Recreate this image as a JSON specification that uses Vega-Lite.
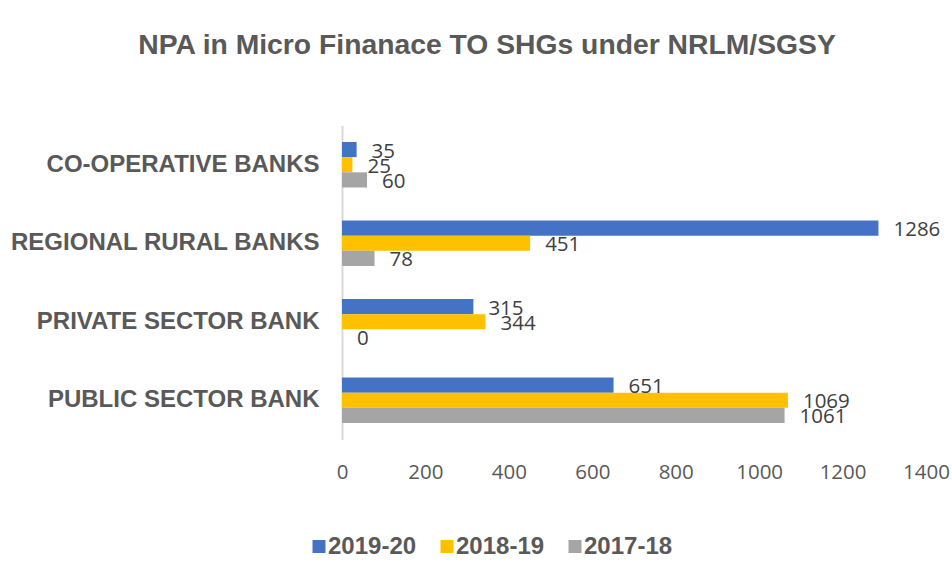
{
  "$schema": "https://vega.github.io/schema/vega-lite/v6.json",
  "width": 584,
  "height": 314,
  "autosize": "none",
  "padding": {"left": 342, "top": 125.5, "right": 26, "bottom": 138.5},
  "background": "white",
  "title": {
    "text": "NPA in Micro Finanace TO SHGs under  NRLM/SGSY",
    "font": "Liberation Sans",
    "fontSize": 28.3,
    "fontWeight": "bold",
    "color": "#595959",
    "anchor": "middle",
    "frame": "group",
    "dx": -147,
    "offset": 65
  },
  "data": {
    "values": [
      {"bank": "CO-OPERATIVE BANKS", "year": "2019-20", "npa": 35},
      {"bank": "CO-OPERATIVE BANKS", "year": "2018-19", "npa": 25},
      {"bank": "CO-OPERATIVE BANKS", "year": "2017-18", "npa": 60},
      {"bank": "REGIONAL RURAL BANKS", "year": "2019-20", "npa": 1286},
      {"bank": "REGIONAL RURAL BANKS", "year": "2018-19", "npa": 451},
      {"bank": "REGIONAL RURAL BANKS", "year": "2017-18", "npa": 78},
      {"bank": "PRIVATE SECTOR BANK", "year": "2019-20", "npa": 315},
      {"bank": "PRIVATE SECTOR BANK", "year": "2018-19", "npa": 344},
      {"bank": "PRIVATE SECTOR BANK", "year": "2017-18", "npa": 0},
      {"bank": "PUBLIC SECTOR BANK", "year": "2019-20", "npa": 651},
      {"bank": "PUBLIC SECTOR BANK", "year": "2018-19", "npa": 1069},
      {"bank": "PUBLIC SECTOR BANK", "year": "2017-18", "npa": 1061}
    ]
  },
  "encoding": {
    "y": {
      "field": "bank",
      "type": "nominal",
      "sort": ["CO-OPERATIVE BANKS", "REGIONAL RURAL BANKS", "PRIVATE SECTOR BANK", "PUBLIC SECTOR BANK"],
      "scale": {"paddingInner": 0.42, "paddingOuter": 0.21},
      "axis": {
        "title": null,
        "ticks": false,
        "domainColor": "#d9d9d9",
        "domainWidth": 2,
        "labelFont": "Liberation Sans",
        "labelFontSize": 24,
        "labelFontWeight": "bold",
        "labelColor": "#595959",
        "labelPadding": 23,
        "labelLimit": 400
      }
    },
    "yOffset": {
      "field": "year",
      "type": "nominal",
      "sort": ["2019-20", "2018-19", "2017-18"],
      "scale": {"paddingInner": 0, "paddingOuter": 0}
    },
    "x": {
      "field": "npa",
      "type": "quantitative",
      "scale": {"domain": [0, 1400], "nice": false},
      "axis": {
        "title": null,
        "values": [0, 200, 400, 600, 800, 1000, 1200, 1400],
        "format": "d",
        "grid": false,
        "domain": false,
        "ticks": false,
        "labelFont": "Open Sans",
        "labelFontSize": 20.5,
        "labelColor": "#595959",
        "labelPadding": 23,
        "labelFlush": false
      }
    }
  },
  "layer": [
    {
      "mark": {"type": "bar"},
      "encoding": {
        "color": {
          "field": "year",
          "type": "nominal",
          "sort": ["2019-20", "2018-19", "2017-18"],
          "scale": {"domain": ["2019-20", "2018-19", "2017-18"], "range": ["#4472C4", "#FFC000", "#A5A5A5"]},
          "legend": {
            "title": null,
            "orient": "none",
            "direction": "horizontal",
            "legendX": -35,
            "legendY": 409,
            "symbolType": "square",
            "symbolSize": 169,
            "symbolStrokeWidth": 0,
            "labelFont": "Liberation Sans",
            "labelFontSize": 24,
            "labelFontWeight": "bold",
            "labelColor": "#595959",
            "labelOffset": -3,
            "columnPadding": 18,
            "padding": 0
          }
        }
      }
    },
    {
      "mark": {
        "type": "text",
        "align": "left",
        "baseline": "middle",
        "dx": 15,
        "dy": 2,
        "font": "Open Sans",
        "fontSize": 20.5,
        "color": "#404040"
      },
      "encoding": {
        "text": {"field": "npa", "type": "quantitative"}
      }
    }
  ],
  "config": {
    "view": {"stroke": null}
  }
}
